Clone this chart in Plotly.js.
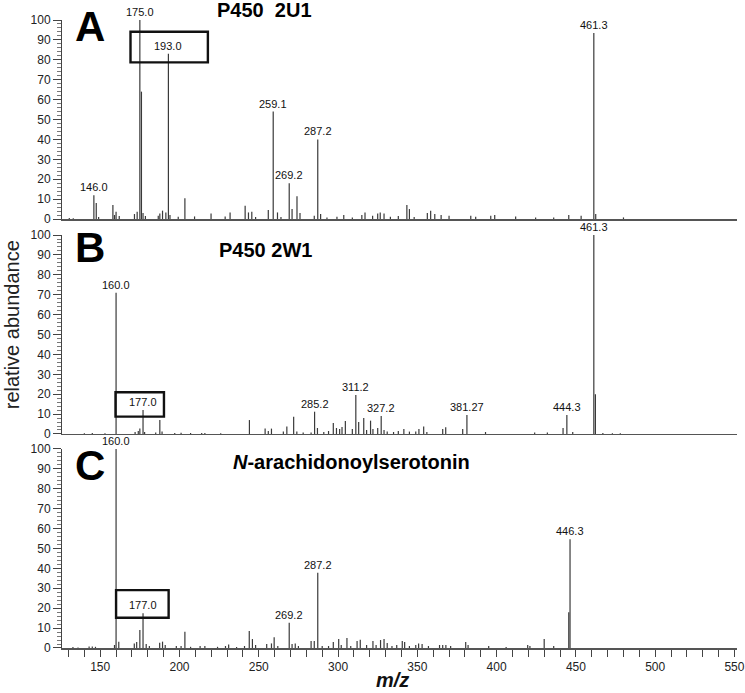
<!DOCTYPE html>
<html>
<head>
<meta charset="utf-8">
<script src="https://cdn.plot.ly/plotly-3.0.1.min.js"></script>
<style>html,body{margin:0;padding:0;background:#fff;}#chart{width:745px;height:693px;}</style>
</head>
<body>
<div id="chart"></div>
<script>
// ---- Panel A: P450 2U1 ----
const mzA = [130.5,133,146.0,147.5,149,158.0,159,160,162,171.6,173.3,175.0,176.0,177,178.5,186.6,187.6,189.3,191.4,193.0,194,199.2,203.4,209.5,219.9,228.8,231.9,241.4,243.5,245.6,248,256,259.1,261.8,264,269.2,271,274.1,276,285,287.2,289,293,299.3,303.6,309,315,317,321.8,325,326.6,329,333,338,343.4,345,348,356.3,358.4,361,365,370,383.7,386.8,396.3,398.8,412,424.6,436,445.5,453.3,461.3,462.5,480];
const intA = [0.5,0.4,12,8,1,7,2,3.7,1.5,2.5,3.7,100,64,3,1.5,1.7,2.8,4.2,3.3,83,2,1.2,10.4,1.3,2.8,1.3,3.3,6.7,3.3,3.7,1,4.5,54,3.3,1,18,5,11.4,3,1.7,40,2.5,0.8,1.2,2,0.8,2,3.3,1.7,2.8,3.3,2.8,1.2,1.5,7,5,1,3,4.2,2.5,2,1.7,1.7,1.2,1.7,2,1.3,0.8,0.8,2,1.7,93.5,2.5,0.8];
const labelMzA = [146.0,175.0,193.0,259.1,269.2,287.2,461.3];
const labelA = ["146.0","175.0","193.0","259.1","269.2","287.2","461.3"];

// ---- Panel B: P450 2W1 ----
const mzB = [140,145,153,160.0,172,174,175,177.0,178,185,187.6,189,197,201,207,214,216,226,244.1,254,256,258,265.5,267.7,272,274,278,283,285.2,287,291,294,297,299,301,302.5,304.6,309,311.2,313,316.2,318,320.5,322,325,327.2,329,331,335,338,341.5,345,349,351,354,356,366,367.9,378.6,381.27,393,424,432,441.9,444.3,448,461.3,462.3,467,473,478];
const intB = [0.4,0.5,0.4,71,1,1.5,2.7,12,1,0.8,7,1.2,0.5,0.6,0.5,0.5,0.5,0.4,7,2.7,1.5,2.7,1.2,3.7,8.7,1.2,0.8,0.8,11.2,3,1,1.5,5.5,3,2.5,3.5,6.5,2.5,19.6,6,8,2,6.7,2.5,3,9,2,1.2,1,1.5,2.5,1.2,1.2,2.5,3.7,1,2.5,3.4,2.5,9.5,1,0.8,0.8,3,9.5,1,100,20,0.5,0.4,0.4];
const labelMzB = [160.0,177.0,285.2,311.2,327.2,381.27,444.3,461.3];
const labelB = ["160.0","177.0","285.2","311.2","327.2","381.27","444.3","461.3"];

// ---- Panel C: N-arachidonoylserotonin ----
const mzC = [132.8,136,143,145,147,159,160.0,161.7,171.5,173,175,177.0,179,181,187.5,189.3,191,198,201,203.4,207,213,216,224,229,231,236,241,244,246,248,255,258,259.7,262,269.2,271,273,275,283,285,287.2,290,294,297,300.4,302,305.6,308,312,314,318,322,324,326.8,329,331,334,337,340.5,342,345,349,350.8,353,357,364,366,368,371,380.5,382,395,406,419.6,421,430,436,445.5,446.3];
const intC = [0.5,0.3,0.7,0.8,0.6,1.5,100,3.2,2.3,3,9,17.4,2,1,2.7,3.2,1.5,1,1,8.2,0.6,1,1,0.6,1,1.8,0.5,1,8.5,4.5,1.5,2,2.3,5.4,1,12.7,2,2.3,1,3.5,3.5,37.8,1,1,3,4.5,1.5,5,1,3.5,4.2,1.5,3.5,1.5,4,4.5,2.5,1,1.5,3.5,3,1,1.5,2.3,2,1,1.5,1.5,1.5,1,3,1.5,1,0.5,1.5,1,4.5,1,18,54.6];
const labelMzC = [160.0,177.0,269.2,287.2,446.3];
const labelC = ["160.0","177.0","269.2","287.2","446.3"];

// axis ticks
const yTickVals = [0,10,20,30,40,50,60,70,80,90,100];
const xTickVals = [150,200,250,300,350,400,450,500,550];

const FONT = "Liberation Sans, Arial, Helvetica, sans-serif";

function sticks(mz, inten) {
  const x = [], y = [];
  for (let i = 0; i < mz.length; i++) {
    x.push(mz[i], mz[i], null);
    y.push(0, inten[i], null);
  }
  return {x, y};
}
function lookup(mz, inten, m) {
  let best = 0, bd = 1e9;
  for (let i = 0; i < mz.length; i++) { const d = Math.abs(mz[i]-m); if (d < bd) { bd = d; best = i; } }
  return inten[best];
}

const panels = [
  {mz: mzA, it: intA, lm: labelMzA, lt: labelA, xa: 'x', ya: 'y'},
  {mz: mzB, it: intB, lm: labelMzB, lt: labelB, xa: 'x2', ya: 'y2'},
  {mz: mzC, it: intC, lm: labelMzC, lt: labelC, xa: 'x3', ya: 'y3'}
];

const traces = [];
const annotations = [];
panels.forEach(p => {
  const s = sticks(p.mz, p.it);
  traces.push({x: s.x, y: s.y, xaxis: p.xa, yaxis: p.ya, type: 'scatter', mode: 'lines',
    line: {color: '#3a3a3a', width: 1.2}, hoverinfo: 'skip', showlegend: false, connectgaps: false});
  p.lm.forEach((m, i) => {
    annotations.push({x: m, y: lookup(p.mz, p.it, m), xref: p.xa, yref: p.ya, text: p.lt[i],
      showarrow: false, yanchor: 'bottom', xanchor: 'center', yshift: 0,
      font: {family: FONT, size: 11, color: '#111'}});
  });
});

// panel letters & titles
const letterFont = {family: FONT, size: 42, color: '#000'};
const titleFont = {family: FONT, size: 20, color: '#000'};
annotations.push(
  {xref: 'paper', yref: 'paper', x: 0.0415, y: 0.990, text: '<b>A</b>', showarrow: false, xanchor: 'center', yanchor: 'middle', font: letterFont},
  {xref: 'paper', yref: 'paper', x: 0.0415, y: 0.637, text: '<b>B</b>', showarrow: false, xanchor: 'center', yanchor: 'middle', font: letterFont},
  {xref: 'paper', yref: 'paper', x: 0.0415, y: 0.290, text: '<b>C</b>', showarrow: false, xanchor: 'center', yanchor: 'middle', font: letterFont},
  {xref: 'paper', yref: 'paper', x: 0.3007, y: 1.016, text: '<b>P450  2U1</b>', showarrow: false, xanchor: 'center', yanchor: 'middle', font: titleFont},
  {xref: 'paper', yref: 'paper', x: 0.3022, y: 0.634, text: '<b>P450 2W1</b>', showarrow: false, xanchor: 'center', yanchor: 'middle', font: titleFont},
  {xref: 'paper', yref: 'paper', x: 0.4296, y: 0.296, text: '<b><i>N</i>-arachidonoylserotonin</b>', showarrow: false, xanchor: 'center', yanchor: 'middle', font: titleFont},
  {xref: 'paper', yref: 'paper', x: -0.074, y: 0.514, text: 'relative abundance', textangle: -90, showarrow: false, xanchor: 'center', yanchor: 'middle', font: {family: FONT, size: 20, color: '#222'}},
  {xref: 'paper', yref: 'paper', x: 0.489, y: -0.051, text: '<b><i>m/z</i></b>', showarrow: false, xanchor: 'center', yanchor: 'middle', font: {family: FONT, size: 20, color: '#111'}}
);

const boxLine = {color: '#111', width: 2.4};
const shapes = [
  {type: 'rect', xref: 'x', yref: 'y', x0: 169.1, x1: 217.9, y0: 78.7, y1: 94.1, line: boxLine},
  {type: 'rect', xref: 'x2', yref: 'y2', x0: 159.65, x1: 190.2, y0: 8.7, y1: 21, line: boxLine},
  {type: 'rect', xref: 'x3', yref: 'y3', x0: 160.0, x1: 193.15, y0: 15.2, y1: 29.1, line: boxLine}
];

const xRange = [125.9, 551.6];
const yBase = {
  range: [0, 100], tickmode: 'array', tickvals: yTickVals, ticks: 'outside', ticklen: 8, tickwidth: 1,
  tickcolor: '#444', showline: true, linecolor: '#444', linewidth: 1, showgrid: false, zeroline: false,
  tickfont: {family: FONT, size: 12, color: '#222'}, fixedrange: true,
  minor: {dtick: 2, ticks: 'outside', ticklen: 4, tickcolor: '#777', tickwidth: 1, showgrid: false}
};
const xHidden = {
  range: xRange, showticklabels: false, ticks: '', showline: true, linecolor: '#555', linewidth: 1.5,
  showgrid: false, zeroline: false, fixedrange: true
};

const layout = {
  width: 745, height: 693,
  margin: {l: 62, r: 8, t: 20, b: 45},
  paper_bgcolor: '#fff', plot_bgcolor: '#fff',
  showlegend: false,
  font: {family: FONT, color: '#222'},
  xaxis: Object.assign({}, xHidden, {anchor: 'y', domain: [0, 1]}),
  xaxis2: Object.assign({}, xHidden, {anchor: 'y2', domain: [0, 1]}),
  xaxis3: {
    anchor: 'y3', domain: [0, 1], range: xRange, tickmode: 'array', tickvals: xTickVals,
    ticks: 'outside', ticklen: 7, tickwidth: 1, tickcolor: '#444', showline: true, linecolor: '#555', linewidth: 1.5,
    showgrid: false, zeroline: false, fixedrange: true, tickfont: {family: FONT, size: 12, color: '#222'},
    ticklabeloverflow: 'allow',
    minor: {dtick: 10, tick0: 130, ticks: 'outside', ticklen: 7, tickcolor: '#444', tickwidth: 1, showgrid: false}
  },
  yaxis: Object.assign({}, yBase, {anchor: 'x', domain: [0.6831, 1]}),
  yaxis2: Object.assign({}, yBase, {anchor: 'x2', domain: [0.3408, 0.6576]}),
  yaxis3: Object.assign({}, yBase, {anchor: 'x3', domain: [0, 0.3169]}),
  annotations: annotations,
  shapes: shapes
};

Plotly.newPlot('chart', traces, layout, {staticPlot: true, displayModeBar: false});
</script>
</body>
</html>
